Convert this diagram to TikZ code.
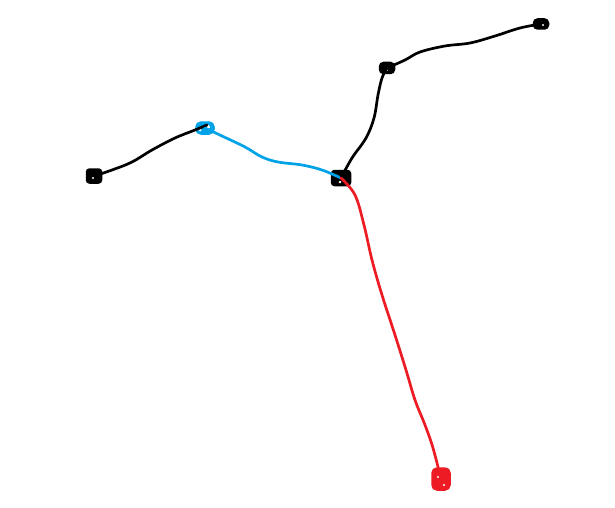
\documentclass[tikz,border=0pt]{standalone}
\definecolor{pblue}{RGB}{0,162,232}
\definecolor{pred}{RGB}{237,28,36}
\tikzset{
  blob/.style={draw, fill, line width=1.5pt, rounded corners=3pt, inner sep=0pt},
  link/.style={line width=2.7pt, line cap=round, line join=round},
}
\begin{document}
\begin{tikzpicture}[x=1pt,y=-1pt]
\useasboundingbox (0,0) rectangle (615,508);
\fill[white] (0,0) rectangle (615,508);
% nodes
\node[blob, black, minimum width=15pt, minimum height=14pt] (a) at (94,176) {};
\node[blob, pblue, minimum width=18pt, minimum height=12pt, rounded corners=5pt] (b) at (205,128) {};
\node[blob, black, minimum width=19pt, minimum height=15pt] (c) at (341,178) {};
\node[blob, black, minimum width=15pt, minimum height=11pt, rounded corners=4pt] (d) at (387,68) {};
\node[blob, black, minimum width=15pt, minimum height=10pt, rounded corners=4pt] (e) at (541,24) {};
\node[blob, pred, minimum width=18pt, minimum height=22pt, rounded corners=5pt] (f) at (441,479) {};
% small white specks inside the scribbled nodes
\fill[white] (93,178) circle (1.2);
\fill[white] (208,127) circle (2);
\fill[white] (200,130) circle (1.5);
\fill[white] (340,182) circle (1.3);
\fill[white] (387,70) circle (1.2);
\fill[white] (543,25) circle (1.2);
\fill[white] (438,477) circle (1.2);
\fill[white] (444,485) circle (1.2);
% connectors
\draw[link, black] plot[smooth, tension=0.6] coordinates {(a.center) (112,170) (132,162) (152,150) (175,138) (195,130) (207,125)};
\draw[link, pblue] plot[smooth, tension=0.6] coordinates {(b.center) (222,136) (245,147) (262,157) (278,162) (302,165) (322,170) (c.center)};
\draw[link, black] plot[smooth, tension=0.6] coordinates {(c.center) (352,158) (366,138) (374,118) (378,95) (382,78) (d.center)};
\draw[link, black] plot[smooth, tension=0.6] coordinates {(d.center) (405,60) (420,52) (445,46) (470,43) (495,36) (520,28) (e.center)};
\draw[link, pred] plot[smooth, tension=0.6] coordinates {(c.center) (355,195) (364,225) (372,260) (382,295) (395,335) (406,370) (415,400) (425,425) (433,448) (f.center)};
\end{tikzpicture}
\end{document}
